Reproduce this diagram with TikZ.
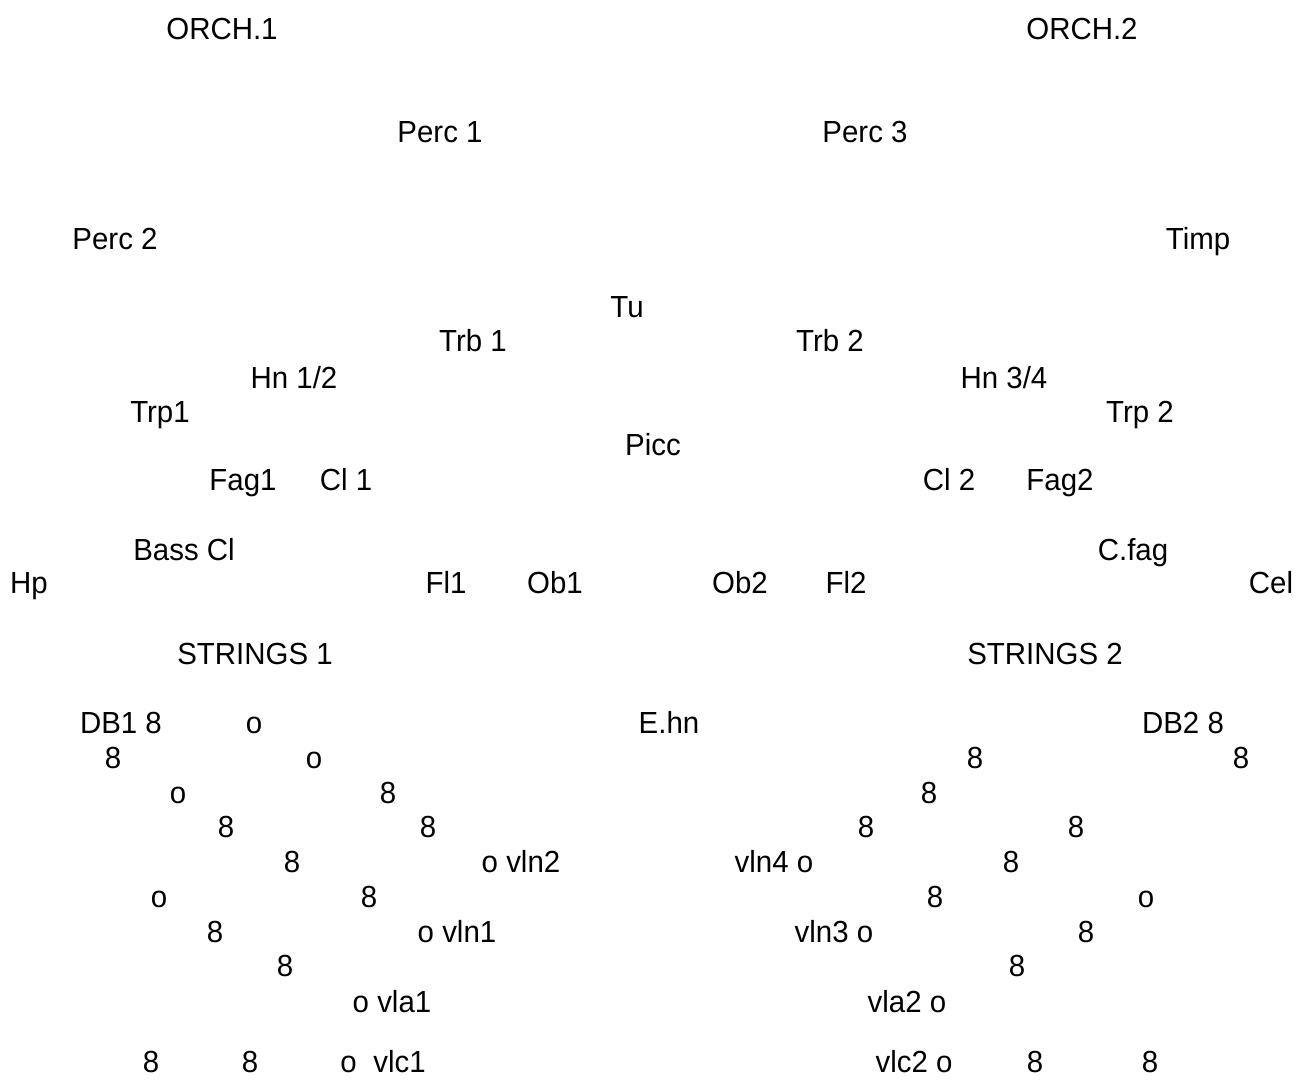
\documentclass[tikz,border=0pt]{standalone}
\usepackage{fontspec}
\setmainfont{Liberation Sans}[FakeStretch=0.965]
\begin{document}
\begin{tikzpicture}[x=1pt,y=-1pt,
  lbl/.style={inner sep=0pt, outer sep=0pt, text height=22pt, text depth=0pt,
    font=\fontsize{30.5}{35}\selectfont, anchor=center}]
\useasboundingbox (0,0) rectangle (1296,1084);
% headings
\node[lbl] (orch1) at (222,28) {ORCH.1};
\node[lbl] (orch2) at (1082,28) {ORCH.2};
\node[lbl] (perc1) at (440,131) {Perc 1};
\node[lbl] (perc3) at (865,131) {Perc 3};
\node[lbl] (perc2) at (115,238) {Perc 2};
\node[lbl] (timp) at (1198,238) {Timp};
\node[lbl] (tu) at (627,306) {Tu};
\node[lbl] (trb1) at (473,340) {Trb 1};
\node[lbl] (trb2) at (830,340) {Trb 2};
\node[lbl] (hn12) at (294,377) {Hn 1/2};
\node[lbl] (hn34) at (1004,377) {Hn 3/4};
\node[lbl] (trp1) at (160,411) {Trp1};
\node[lbl] (trp2) at (1140,411) {Trp 2};
\node[lbl] (picc) at (653,444) {Picc};
\node[lbl] (fag1) at (243,479) {Fag1};
\node[lbl] (cl1) at (346,479) {Cl 1};
\node[lbl] (cl2) at (949,479) {Cl 2};
\node[lbl] (fag2) at (1060,479) {Fag2};
\node[lbl] (basscl) at (184,549) {Bass Cl};
\node[lbl] (cfag) at (1133,549) {C.fag};
\node[lbl] (hp) at (29,582) {Hp};
\node[lbl] (fl1) at (446,582) {Fl1};
\node[lbl] (ob1) at (555,582) {Ob1};
\node[lbl] (ob2) at (740,582) {Ob2};
\node[lbl] (fl2) at (846,582) {Fl2};
\node[lbl] (cel) at (1271,582) {Cel};
\node[lbl] (str1) at (255,653) {STRINGS 1};
\node[lbl] (str2) at (1045,653) {STRINGS 2};
% string seating
\node[lbl] (db1) at (121,722) {DB1 8};
\node[lbl] (r1a) at (254,722) {o};
\node[lbl] (ehn) at (669,722) {E.hn};
\node[lbl] (db2) at (1183,722) {DB2 8};
\node[lbl] (r2a) at (113,757) {8};
\node[lbl] (r2b) at (314,757) {o};
\node[lbl] (r2c) at (975,757) {8};
\node[lbl] (r2d) at (1241,757) {8};
\node[lbl] (r3a) at (178,792) {o};
\node[lbl] (r3b) at (388,792) {8};
\node[lbl] (r3c) at (929,792) {8};
\node[lbl] (r4a) at (226,826) {8};
\node[lbl] (r4b) at (428,826) {8};
\node[lbl] (r4c) at (866,826) {8};
\node[lbl] (r4d) at (1076,826) {8};
\node[lbl] (r5a) at (292,861) {8};
\node[lbl] (vln2) at (521,861) {o vln2};
\node[lbl] (vln4) at (774,861) {vln4 o};
\node[lbl] (r5d) at (1011,861) {8};
\node[lbl] (r6a) at (159,896) {o};
\node[lbl] (r6b) at (369,896) {8};
\node[lbl] (r6c) at (935,896) {8};
\node[lbl] (r6d) at (1146,896) {o};
\node[lbl] (r7a) at (215,931) {8};
\node[lbl] (vln1) at (457,931) {o vln1};
\node[lbl] (vln3) at (834,931) {vln3 o};
\node[lbl] (r7d) at (1086,931) {8};
\node[lbl] (r8a) at (285,965) {8};
\node[lbl] (r8b) at (1017,965) {8};
\node[lbl] (vla1) at (392,1001) {o vla1};
\node[lbl] (vla2) at (907,1001) {vla2 o};
\node[lbl] (r10a) at (151,1061) {8};
\node[lbl] (r10b) at (250,1061) {8};
\node[lbl] (vlc1) at (383,1061) {o\hspace{0.55em}vlc1};
\node[lbl] (vlc2) at (914,1061) {vlc2 o};
\node[lbl] (r10e) at (1035,1061) {8};
\node[lbl] (r10f) at (1150,1061) {8};
\end{tikzpicture}
\end{document}
